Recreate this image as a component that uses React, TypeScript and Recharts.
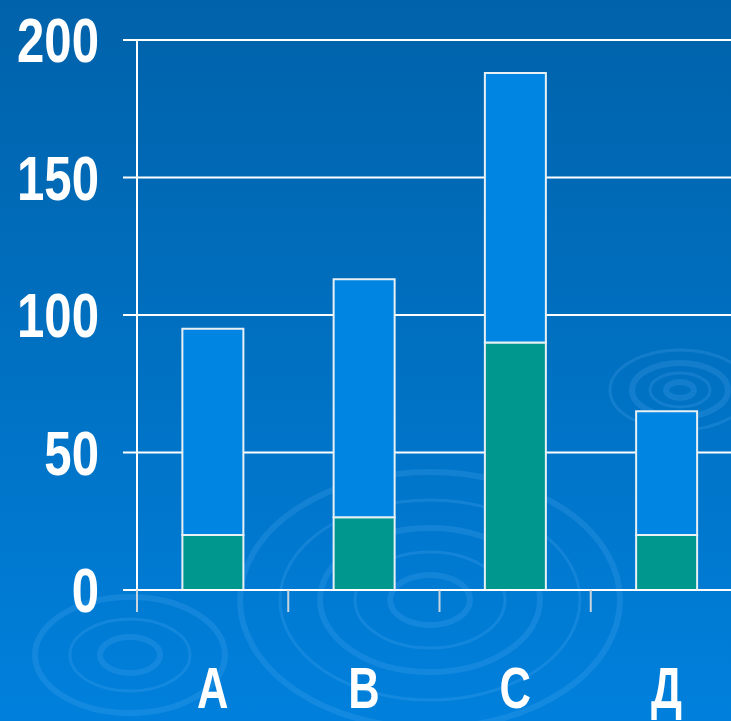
import { BarChart, Bar, XAxis, YAxis, CartesianGrid } from 'recharts'

// Values
const categories = ['А', 'В', 'С', 'Д']
const lowerValues = [20, 26.5, 90, 20]
const upperValues = [75, 86.5, 98, 45]
const yTicks = [0, 50, 100, 150, 200]

const data = categories.map((name, i) => ({
  name,
  lower: lowerValues[i],
  upper: upperValues[i]
}))

const FONT = '"Liberation Sans", Arial, sans-serif'
const PLOT_LEFT = 137
const PLOT_WIDTH = 605
const BAND = PLOT_WIDTH / categories.length

// narrow bold numbers like the slide's font
function ValueTick(props: any) {
  const { x, y, payload } = props
  return (
    <text
      transform={`translate(${x},${y}) scale(0.78,1)`}
      textAnchor="end"
      dy="0.355em"
      fill="#ffffff"
      fontFamily={FONT}
      fontWeight={700}
      fontSize={63}
    >
      {payload.value}
    </text>
  )
}

// category label plus a tick on the left edge of each band
function CategoryTick(props: any) {
  const { x, y, payload } = props
  const half = payload && payload.offset ? payload.offset : BAND / 2
  return (
    <g>
      <line x1={x - half} x2={x - half} y1={y - 8} y2={y + 14} stroke="#c8d4de" strokeWidth={2} />
      <text
        transform={`translate(${x},${y + 110}) scale(0.75,1)`}
        textAnchor="middle"
        fill="#ffffff"
        fontFamily={FONT}
        fontWeight={700}
        fontSize={58}
      >
        {payload.value}
      </text>
    </g>
  )
}

function Ripples() {
  const rings = [
    { cx: 430, cy: 600, rx: [40, 75, 110, 150, 190], ry: [25, 48, 72, 100, 128] },
    { cx: 680, cy: 390, rx: [14, 30, 48, 70], ry: [8, 17, 27, 40] },
    { cx: 130, cy: 655, rx: [30, 60, 95], ry: [18, 36, 58] }
  ]
  return (
    <svg width={731} height={721} style={{ position: 'absolute', left: 0, top: 0 }}>
      {rings.map((r, i) =>
        r.rx.map((rx, j) => (
          <ellipse
            key={i + '-' + j}
            cx={r.cx}
            cy={r.cy}
            rx={rx}
            ry={r.ry[j]}
            fill="none"
            stroke="rgba(120,190,255,0.16)"
            strokeWidth={j % 2 === 0 ? 6 : 3}
          />
        ))
      )}
    </svg>
  )
}

export default function App() {
  return (
    <div
      style={{
        position: 'absolute',
        left: 0,
        top: 0,
        width: 731,
        height: 721,
        overflow: 'hidden',
        background: 'linear-gradient(180deg, #0062aa 0%, #006fbf 45%, #0080dc 100%)'
      }}
    >
      <Ripples />
      <div style={{ position: 'absolute', left: 0, top: 0 }}>
        <BarChart
          width={PLOT_LEFT + PLOT_WIDTH + 20}
          height={721}
          data={data}
          margin={{ top: 40, right: 20, bottom: 0, left: 0 }}
          barCategoryGap="30%"
        >
          <CartesianGrid vertical={false} stroke="#ffffff" strokeWidth={2} />
          <XAxis
            dataKey="name"
            height={131}
            axisLine={{ stroke: '#ffffff', strokeWidth: 2 }}
            tickLine={false}
            tick={<CategoryTick />}
            interval={0}
          />
          <YAxis
            width={PLOT_LEFT}
            domain={[0, 200]}
            ticks={yTicks}
            interval={0}
            axisLine={{ stroke: '#ffffff', strokeWidth: 2 }}
            tickLine={{ stroke: '#ffffff', strokeWidth: 2 }}
            tickSize={14}
            tickMargin={24}
            tick={<ValueTick />}
          />
          <Bar dataKey="lower" stackId="s" fill="#00978f" stroke="#e8f0f4" strokeWidth={2} isAnimationActive={false} />
          <Bar dataKey="upper" stackId="s" fill="#0086e2" stroke="#e8f0f4" strokeWidth={2} isAnimationActive={false} />
        </BarChart>
      </div>
    </div>
  )
}
